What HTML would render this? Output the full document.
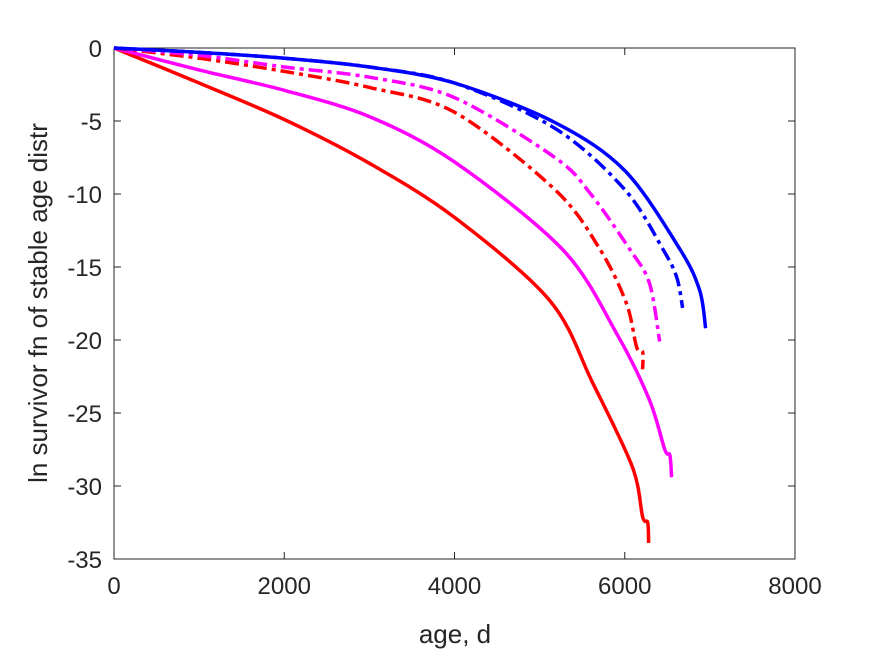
<!DOCTYPE html>
<html><head><meta charset="utf-8"><style>
body{margin:0;background:#fff;}
svg text{font-family:"Liberation Sans",sans-serif;fill:#262626;}
</style></head><body>
<svg id="chart" width="875" height="656">
<rect width="875" height="656" fill="#fff"/>
<g id="axes"></g><g id="series"></g>
<text x="455" y="643" font-size="26" text-anchor="middle">age, d</text>
<text transform="translate(47,303) rotate(-90)" font-size="26" text-anchor="middle">ln survivor fn of stable age distr</text>
</svg>
<script>
const xTicks=[0,2000,4000,6000,8000];
const yTicks=[0,-5,-10,-15,-20,-25,-30,-35];
const redSolidX=[0,1000,2000,3000,4000,5120,5620,6090,6210,6270,6280];
const redSolidY=[0,-2.4,-4.9,-7.9,-11.6,-17.3,-22.9,-28.7,-32.1,-32.5,-33.9];
const magSolidX=[0,1000,2000,3000,4000,5270,5900,6290,6470,6530,6550];
const magSolidY=[0,-1.5,-2.9,-4.7,-7.8,-13.8,-19.5,-24.1,-27.5,-27.9,-29.4];
const redDashX=[0,1000,2000,3000,4000,5180,5710,6020,6140,6210,6210];
const redDashY=[0,-0.7,-1.6,-2.7,-4.4,-9.7,-13.8,-17.5,-20.5,-20.8,-22];
const magDashX=[0,1000,2000,3000,4000,5180,5600,6060,6290,6410];
const magDashY=[0,-0.5,-1.3,-2.0,-3.4,-7.5,-10.0,-13.8,-16.1,-20.1];
const blueDashX=[0,1000,2000,3000,4000,5180,6000,6450,6610,6680];
const blueDashY=[0,-0.3,-0.7,-1.3,-2.4,-5.5,-9.7,-13.8,-15.7,-17.8];
const blueSolidX=[0,1000,2000,3000,4000,5180,6000,6650,6880,6950];
const blueSolidY=[0,-0.3,-0.7,-1.3,-2.4,-5.1,-8.4,-13.8,-16.6,-19.2];
const L=114,R=795,T=48,B=559;
const sx=v=>L+(v-0)/8000*(R-L);
const sy=v=>T+(0-v)/35*(B-T);
const NS='http://www.w3.org/2000/svg';
const ax=document.getElementById('axes');
function mk(tag,attrs,parent){const e=document.createElementNS(NS,tag);for(const k in attrs)e.setAttribute(k,attrs[k]);parent.appendChild(e);return e;}
const box=mk('rect',{x:L,y:T,width:R-L,height:B-T,fill:'none',stroke:'#262626','stroke-width':1},ax);


xTicks.forEach(v=>{
  const x=sx(v);
  const t=mk('line',{x1:x,x2:x,y1:B,y2:B-7,stroke:'#262626'},ax);
  
  
  mk('line',{x1:x,x2:x,y1:T,y2:T+7,stroke:'#262626'},ax);
  const l=mk('text',{x:x,y:B+35,'font-size':24,'text-anchor':'middle'},ax);l.textContent=v;
  
  
});
yTicks.forEach(v=>{
  const y=sy(v);
  const t=mk('line',{x1:L,x2:L+7,y1:y,y2:y,stroke:'#262626'},ax);
  
  
  mk('line',{x1:R,x2:R-7,y1:y,y2:y,stroke:'#262626'},ax);
  const l=mk('text',{x:L-12,y:y+9,'font-size':24,'text-anchor':'end'},ax);l.textContent=v;
  
  
});
const sg=document.getElementById('series');
function smoothPath(pts){
  let d='M'+pts[0][0].toFixed(1)+','+pts[0][1].toFixed(1);
  for(let i=0;i<pts.length-1;i++){
    const p0=pts[Math.max(0,i-1)],p1=pts[i],p2=pts[i+1],p3=pts[Math.min(pts.length-1,i+2)];
    const t=0.35;
    const c1=[p1[0]+(p2[0]-p0[0])*t/2*0.9,p1[1]+(p2[1]-p0[1])*t/2*0.9];
    const c2=[p2[0]-(p3[0]-p1[0])*t/2*0.9,p2[1]-(p3[1]-p1[1])*t/2*0.9];
    d+=' C'+c1[0].toFixed(1)+','+c1[1].toFixed(1)+' '+c2[0].toFixed(1)+','+c2[1].toFixed(1)+' '+p2[0].toFixed(1)+','+p2[1].toFixed(1);
  }
  return d;
}
function line(xs,ys,color,dash,name){
  const pts=xs.map((x,i)=>[sx(x),sy(ys[i])]);
  const p=mk('path',{d:smoothPath(pts),fill:'none',stroke:color,'stroke-width':3.5,'stroke-linejoin':'round'},sg);
  if(dash)p.setAttribute('stroke-dasharray','14,5,4,5');
  
  
}
line(redSolidX,redSolidY,'#ff0000',false,'red-solid-line');
line(magSolidX,magSolidY,'#ff00ff',false,'magenta-solid-line');
line(redDashX,redDashY,'#ff0000',true,'red-dashdot-line');
line(magDashX,magDashY,'#ff00ff',true,'magenta-dashdot-line');
line(blueDashX,blueDashY,'#0000ff',true,'blue-dashdot-line');
line(blueSolidX,blueSolidY,'#0000ff',false,'blue-solid-line');
</script>
</body></html>
